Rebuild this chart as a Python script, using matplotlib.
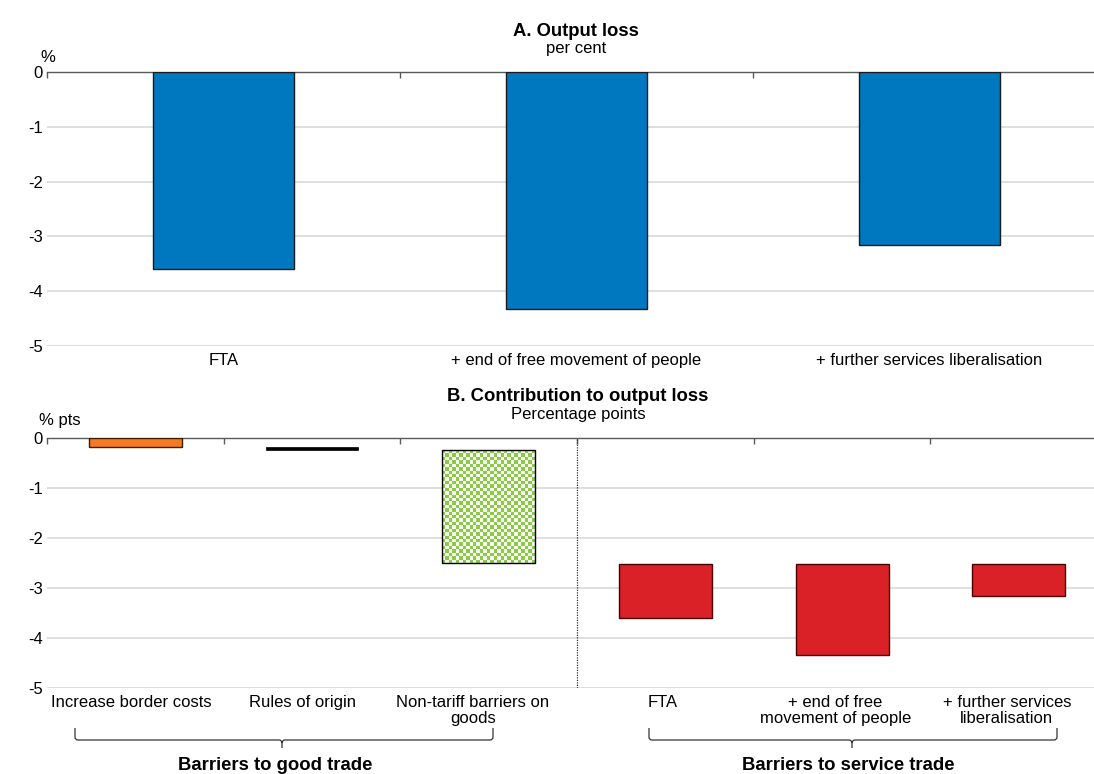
import numpy as np
import matplotlib
matplotlib.use("Agg")
import matplotlib.pyplot as plt
from matplotlib.path import Path
from matplotlib.patches import PathPatch
from matplotlib.colors import ListedColormap
from matplotlib.transforms import ScaledTranslation

plt.rcParams['font.family'] = ['Liberation Sans', 'DejaVu Sans']

# ---------------- data ----------------
top_labels = ["FTA", "+ end of free movement of people", "+ further services liberalisation"]
output_loss = [-3.59, -4.33, -3.16]

goods_labels = ["Increase border costs", "Rules of origin", "Non-tariff barriers on\ngoods"]
goods_contrib = [-0.19, -0.06, -2.26]

service_labels = ["FTA", "+ end of free\nmovement of people", "+ further services\nliberalisation"]
service_totals = [-3.59, -4.33, -3.16]

yticks = [0, -1, -2, -3, -4, -5]

# ---------------- styling ----------------
W, H = 1094, 774
FS = 12
FSB = 13.3
BLUE = '#0078BF'
ORANGE = '#F47B20'
RED = '#DA2128'
GREEN = '#8DC84A'
GRID = '#D9D9D9'
AXIS = '#595959'
# horizontal nudges (px) of panel-B category labels, as in the original layout
label_shift_px = [-4, -10, -16, -3, -7, -12]

fig = plt.figure(figsize=(W / 100, H / 100), dpi=100)


def px_axes(left, top, right, bottom):
    return fig.add_axes([left / W, 1 - bottom / H, (right - left) / W, (bottom - top) / H])


def style(ax, n, labels, pad):
    ax.set_ylim(-5, 0)
    ax.set_xlim(-0.5, n - 0.5)
    for s in ['left', 'right', 'bottom']:
        ax.spines[s].set_visible(False)
    ax.spines['top'].set_color(AXIS)
    ax.spines['top'].set_linewidth(1.0)
    ax.set_yticks(yticks)
    ax.set_yticklabels([str(v) for v in yticks], fontsize=FS)
    ax.tick_params(axis='y', length=0, pad=3)
    ax.yaxis.grid(True, color=GRID, lw=1.2)
    ax.set_axisbelow(True)
    ax.set_xticks(range(n))
    ax.set_xticklabels(labels, fontsize=FS, linespacing=1.12, va='top')
    ax.tick_params(axis='x', which='major', length=0, pad=pad)
    ax.set_xticks(np.arange(-0.5, n, 1.0), minor=True)
    ax.tick_params(axis='x', which='minor', bottom=False, top=True, direction='in',
                   length=4, width=1, color=AXIS)


# ---------------- panel A ----------------
axA = px_axes(47, 72, 47 + 3 * 353, 346)
xA = np.arange(len(top_labels))
axA.bar(xA, output_loss, width=0.40, color=BLUE, edgecolor='#1a1a1a', lw=1, zorder=3)
style(axA, 3, top_labels, 5)

fig.text(576 / W, 1 - 31 / H, "A. Output loss", ha='center', va='center',
         fontsize=FSB, fontweight='bold')
fig.text(576 / W, 1 - 48 / H, "per cent", ha='center', va='center', fontsize=FS)
fig.text(48 / W, 1 - 57 / H, "%", ha='center', va='center', fontsize=FS)

# ---------------- panel B ----------------
axB = px_axes(47, 438, 47 + 6 * 176.7, 688)
n_b = len(goods_labels) + len(service_labels)
style(axB, n_b, goods_labels + service_labels, 5)
for lab, dx in zip(axB.get_xticklabels(), label_shift_px):
    lab.set_transform(lab.get_transform() + ScaledTranslation(dx / 100, 0, fig.dpi_scale_trans))

cum = np.concatenate([[0], np.cumsum(goods_contrib)])
goods_top = cum[:-1]
goods_bottom = cum[1:]
goods_total = cum[-1]
bw = 0.525

# increase border costs
axB.bar(0, goods_bottom[0] - goods_top[0], bottom=goods_top[0], width=bw,
        color=ORANGE, edgecolor='#3a1a00', lw=1, zorder=3)
# rules of origin (black)
axB.bar(1, goods_bottom[1] - goods_top[1], bottom=goods_top[1], width=bw,
        color='black', edgecolor='black', lw=0.5, zorder=3)
# non-tariff barriers (checkered)
ntb = axB.bar(2, goods_bottom[2] - goods_top[2], bottom=goods_top[2], width=bw,
              color='none', edgecolor='black', lw=1, zorder=4)[0]
x0, y0 = 2 - bw / 2, goods_bottom[2]
x1, y1 = 2 + bw / 2, goods_top[2]
fig.canvas.draw()
p0 = axB.transData.transform((x0, y0))
p1 = axB.transData.transform((x1, y1))
cell = 3.4
nx = max(2, int(round(abs(p1[0] - p0[0]) / cell)))
ny = max(2, int(round(abs(p1[1] - p0[1]) / cell)))
board = (np.add.outer(np.arange(ny), np.arange(nx)) % 2).astype(float)
cmap = ListedColormap([GREEN, '#F6FBEF'])
im = axB.imshow(board, cmap=cmap, extent=(x0, x1, y0, y1), origin='lower',
                interpolation='nearest', aspect='auto', zorder=3)
im.set_clip_path(ntb)

# services
xs = np.arange(len(service_labels)) + len(goods_labels)
axB.bar(xs, np.array(service_totals) - goods_total, bottom=goods_total, width=bw,
        color=RED, edgecolor='#4a0000', lw=1, zorder=3)

axB.set_xlim(-0.5, n_b - 0.5)
axB.set_ylim(-5, 0)
axB.axvline(2.5, color='#333333', lw=0.9, ls=(0, (1, 1)), zorder=2)

fig.text(578 / W, 1 - 397 / H, "B. Contribution to output loss", ha='center', va='center',
         fontsize=FSB, fontweight='bold')
fig.text(578 / W, 1 - 415 / H, "Percentage points", ha='center', va='center', fontsize=FS)
fig.text(60 / W, 1 - 420 / H, "% pts", ha='center', va='center', fontsize=FS)


# ---------------- braces ----------------
def brace(xl, xr, xm, ytop=728, yline=740, ytip=748, r=3):
    pts = [(xl, ytop), (xl, yline - r), (xl, yline), (xl + r, yline),
           (xm - r, yline), (xm, yline), (xm, yline + r), (xm, ytip),
           (xm, yline + r), (xm, yline), (xm + r, yline),
           (xr - r, yline), (xr, yline), (xr, yline - r), (xr, ytop)]
    codes = [Path.MOVETO, Path.LINETO, Path.CURVE3, Path.CURVE3,
             Path.LINETO, Path.CURVE3, Path.CURVE3, Path.LINETO,
             Path.MOVETO, Path.CURVE3, Path.CURVE3,
             Path.LINETO, Path.CURVE3, Path.CURVE3, Path.LINETO]
    verts = [(x / W, 1 - y / H) for x, y in pts]
    fig.add_artist(PathPatch(Path(verts, codes), transform=fig.transFigure,
                             fill=False, edgecolor='#333333', lw=0.9))


brace(75, 493, 282)
brace(649, 1057, 852)
fig.text(275 / W, 1 - 765 / H, "Barriers to good trade", ha='center', va='center',
         fontsize=FSB, fontweight='bold')
fig.text(848 / W, 1 - 766 / H, "Barriers to service trade", ha='center', va='center',
         fontsize=FSB, fontweight='bold')

fig.savefig("out.png", dpi=100, facecolor='white')
